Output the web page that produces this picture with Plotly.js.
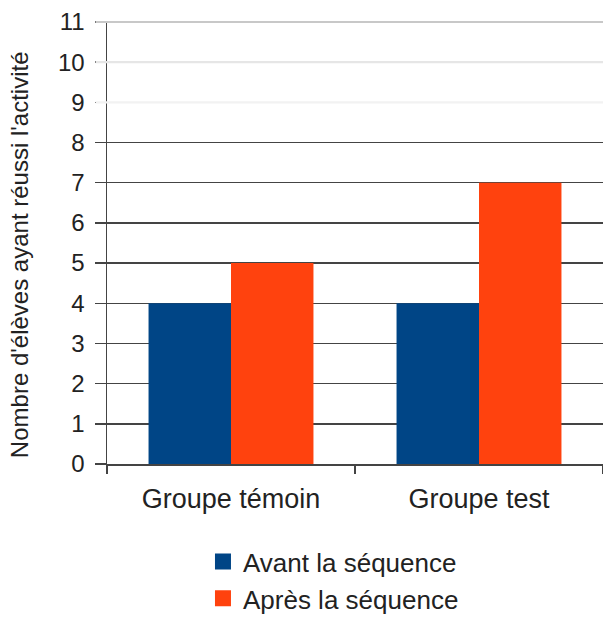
<!DOCTYPE html>
<html>
<head>
<meta charset="utf-8">
<script src="https://cdn.plot.ly/plotly-3.0.1.min.js"></script>
<style>html,body{margin:0;padding:0;background:#fff;}#chart{width:603px;height:617px;}</style>
</head>
<body>
<div id="chart"></div>
<script>
const categories = ["Groupe témoin", "Groupe test"];
const seriesNames = ["Avant la séquence", "Après la séquence"];
const avant = [4, 4];
const apres = [5, 7];
const yRange = [0, 11];
const yTickValues = [0, 1, 2, 3, 4, 5, 6, 7, 8, 9, 10, 11];
const yTitle = "Nombre d'élèves ayant réussi l'activité";
const fadedLevels = [9, 10, 11];
const fadedColors = ["#f2f2f2", "#e6e6e6", "#c8c8c8"];
const seriesColors = ["#004586", "#ff420e"];

const FONT = "Liberation Sans, Arial, sans-serif";

const traces = [
  {type: "bar", name: seriesNames[0], x: categories, y: avant, marker: {color: seriesColors[0]}, showlegend: false},
  {type: "bar", name: seriesNames[1], x: categories, y: apres, marker: {color: seriesColors[1]}, showlegend: false},
  {type: "scatter", mode: "markers", name: seriesNames[0], x: [null], y: [null],
   marker: {symbol: "square", size: 17, color: seriesColors[0]}, showlegend: true},
  {type: "scatter", mode: "markers", name: seriesNames[1], x: [null], y: [null],
   marker: {symbol: "square", size: 17, color: seriesColors[1]}, showlegend: true}
];

const shapes = fadedLevels.map((lv, i) => ({
  type: "line", xref: "paper", yref: "paper", x0: -0.023, x1: 1,
  y0: (lv - yRange[0]) / (yRange[1] - yRange[0]), y1: (lv - yRange[0]) / (yRange[1] - yRange[0]),
  line: {color: fadedColors[i], width: 2.2}, layer: "above"
}));

const layout = {
  width: 603, height: 617,
  margin: {l: 107, r: 0, t: 22, b: 153, autoexpand: false},
  paper_bgcolor: "#fff", plot_bgcolor: "#fff",
  font: {family: FONT, color: "#222"},
  barmode: "group", bargap: 0.335, bargroupgap: 0,
  showlegend: true,
  legend: {
    orientation: "v", x: 0.1935, xanchor: "left", y: -0.1678, yanchor: "top",
    font: {size: 26, family: FONT, color: "#222"}, traceorder: "normal", itemsizing: "trace"
  },
  xaxis: {
    type: "category", categoryorder: "array", categoryarray: categories,
    tickson: "boundaries", ticks: "outside", ticklen: 8, tickcolor: "#444", tickwidth: 1.5,
    showline: true, linecolor: "#444", linewidth: 1.5, showgrid: false,
    tickfont: {size: 27, family: FONT, color: "#222"}, ticklabelstandoff: 10
  },
  yaxis: {
    range: yRange, tickvals: yTickValues, ticks: "outside", ticklen: 11, tickcolor: "#444", tickwidth: 1.5,
    showgrid: true, gridcolor: "#444", gridwidth: 1.5, zeroline: false,
    showline: true, linecolor: "#444", linewidth: 1.5,
    tickfont: {size: 24, family: FONT, color: "#222"}, ticklabelstandoff: 5
  },
  annotations: [{
    text: yTitle, xref: "paper", yref: "paper", x: -0.175, y: 0.473, textangle: -90,
    showarrow: false, font: {size: 24, family: FONT, color: "#222"}, xanchor: "center", yanchor: "middle"
  }],
  shapes: shapes
};

Plotly.newPlot("chart", traces, layout, {displayModeBar: false, staticPlot: true});
</script>
</body>
</html>
